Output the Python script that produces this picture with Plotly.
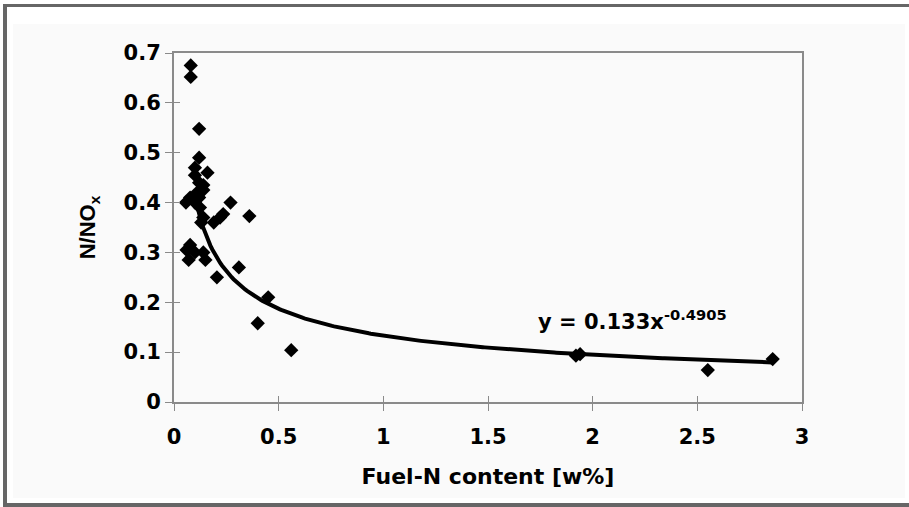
import numpy as np
import plotly.graph_objects as go

# measured points (Fuel-N content [w%], N/NOx)
fuel_n = [0.08, 0.08, 0.12, 0.12, 0.10, 0.16, 0.10, 0.12, 0.14, 0.11, 0.14, 0.077, 0.057,
          0.27, 0.124, 0.10, 0.12, 0.36, 0.14, 0.22, 0.19, 0.235, 0.13, 0.077, 0.06,
          0.14, 0.07, 0.15, 0.10, 0.31, 0.205, 0.45, 0.40, 0.56, 1.92, 1.94, 2.55, 2.86]
n_nox = [0.675, 0.652, 0.548, 0.49, 0.47, 0.46, 0.455, 0.44, 0.435, 0.42, 0.425, 0.41, 0.40,
         0.40, 0.39, 0.40, 0.41, 0.373, 0.37, 0.37, 0.36, 0.377, 0.36, 0.315, 0.305,
         0.30, 0.285, 0.285, 0.30, 0.27, 0.25, 0.21, 0.158, 0.104, 0.093, 0.096, 0.064, 0.086]

# power trendline as printed on the chart: y = a * x^b
trend_a = 0.133
trend_b = -0.4905
trend_x_start = 0.10
trend_x_end = 2.86

x_ticks = [0, 0.5, 1, 1.5, 2, 2.5, 3]
x_tick_text = ["0", "0.5", "1", "1.5", "2", "2.5", "3"]
y_ticks = [0, 0.1, 0.2, 0.3, 0.4, 0.5, 0.6, 0.7]
y_tick_text = ["0", "0.1", "0.2", "0.3", "0.4", "0.5", "0.6", "0.7"]

W, H = 909, 507
ML, MR, MT, MB = 174, 107, 53, 105
PW, PH = W - ML - MR, H - MT - MB

def px(x):
    return (x - ML) / PW

def py(y):
    return (H - MB - y) / PH

tx = np.linspace(trend_x_start, trend_x_end, 300)
ty = trend_a * tx ** trend_b

fig = go.Figure()
fig.add_trace(go.Scatter(x=fuel_n, y=n_nox, mode="markers",
                         marker=dict(symbol="diamond", size=11, color="black",
                                     line=dict(width=0)),
                         showlegend=False, hoverinfo="skip"))
fig.add_trace(go.Scatter(x=tx, y=ty, mode="lines", line=dict(color="black", width=4),
                         showlegend=False, hoverinfo="skip"))
# dummy trace for the overlay axes (inner half of crossing ticks)
fig.add_trace(go.Scatter(x=[None], y=[None], xaxis="x2", yaxis="y2", showlegend=False))

tick_font = dict(family="DejaVu Sans", size=21, color="black", weight="bold")
axis_col = "#8a8a8a"

fig.update_layout(
    width=W, height=H,
    margin=dict(l=ML, r=MR, t=MT, b=MB, pad=0),
    paper_bgcolor="white",
    plot_bgcolor="white",
    xaxis=dict(range=[0, 3], tickvals=x_ticks, ticktext=x_tick_text,
               ticks="outside", ticklen=7, tickwidth=1, tickcolor=axis_col,
               ticklabelstandoff=8,
               showline=True, linecolor=axis_col, linewidth=2, mirror=True,
               showgrid=False, zeroline=False, tickfont=tick_font,
               title=dict(text="Fuel-N content [w%]", standoff=20,
                          font=dict(family="DejaVu Sans", size=22, color="black", weight="bold"))),
    yaxis=dict(range=[0, 0.7], tickvals=y_ticks, ticktext=y_tick_text,
               ticks="outside", ticklen=7, tickwidth=1, tickcolor=axis_col,
               showline=True, linecolor=axis_col, linewidth=2, mirror=True,
               showgrid=False, zeroline=False, tickfont=tick_font,
               title=dict(text="N/NO<sub>x</sub>", standoff=22,
                          font=dict(family="Liberation Sans", size=22, color="black", weight="bold"))),
    xaxis2=dict(range=[0, 3], overlaying="x", anchor="y2", tickvals=x_ticks,
                ticks="inside", ticklen=6, tickwidth=1, tickcolor=axis_col,
                showticklabels=False, showline=False, showgrid=False, zeroline=False, side="bottom"),
    yaxis2=dict(range=[0, 0.7], overlaying="y", anchor="x2", tickvals=y_ticks,
                ticks="inside", ticklen=6, tickwidth=1, tickcolor=axis_col,
                showticklabels=False, showline=False, showgrid=False, zeroline=False, side="left"),
    annotations=[dict(x=1.73, y=0.165, xref="x", yref="y", xanchor="left", yanchor="middle",
                      text="y = 0.133x<sup>-0.4905</sup>", showarrow=False,
                      font=dict(family="DejaVu Sans", size=21, color="black", weight="bold"))],
    shapes=[
        # light inner panel
        dict(type="rect", xref="paper", yref="paper", layer="below",
             x0=px(13), x1=px(905), y0=py(498), y1=py(24),
             fillcolor="#fafafa", line=dict(width=0)),
        # grey outer frame (left, top, bottom)
        dict(type="rect", xref="paper", yref="paper", layer="above",
             x0=px(3), x1=px(7), y0=py(507), y1=py(4),
             fillcolor="#666666", line=dict(width=0)),
        dict(type="rect", xref="paper", yref="paper", layer="above",
             x0=px(3), x1=px(909), y0=py(7), y1=py(4),
             fillcolor="#666666", line=dict(width=0)),
        dict(type="rect", xref="paper", yref="paper", layer="above",
             x0=px(3), x1=px(909), y0=py(507), y1=py(503),
             fillcolor="#666666", line=dict(width=0)),
    ],
)

fig.write_html("out.html")
